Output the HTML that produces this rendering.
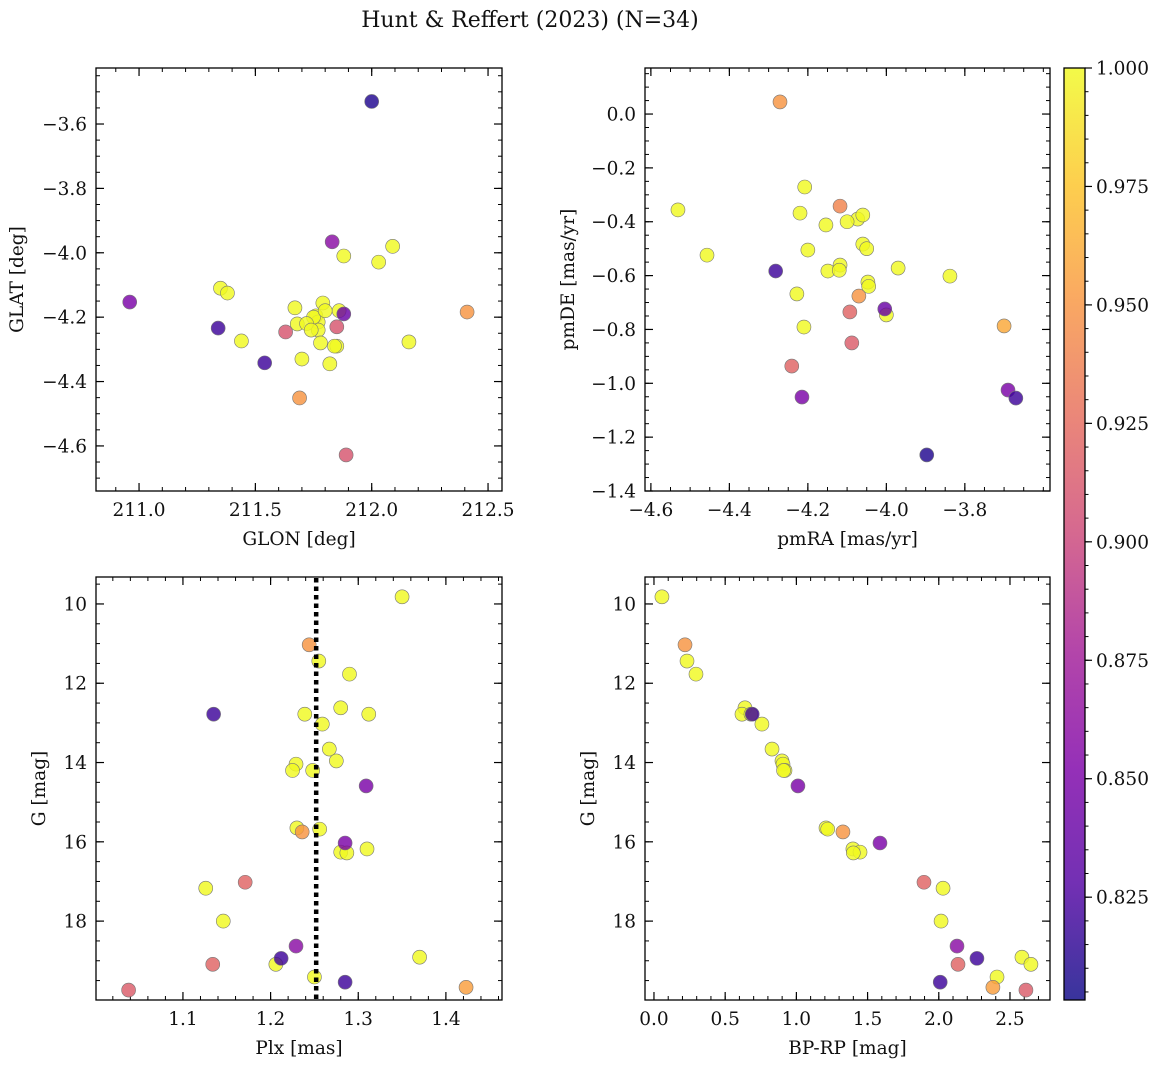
<!DOCTYPE html>
<html><head><meta charset="utf-8"><style>
body{margin:0;background:#fff}
svg text{font-family:"DejaVu Serif","Liberation Serif",serif;fill:#111}
</style></head><body>
<svg id="fig" width="1161" height="1067" xmlns="http://www.w3.org/2000/svg">
<text x="530" y="27" font-size="22" text-anchor="middle">Hunt &amp; Reffert (2023) (N=34)</text>
</svg>
<script>
// ---- data ----
const tlGlon=[212.0,210.96,211.34,211.35,211.38,211.44,211.54,211.63,211.67,211.68,211.70,211.69,211.76,211.77,211.77,211.79,211.83,211.88,211.82,211.85,211.86,211.85,211.88,211.89,212.03,212.09,212.16,212.41,211.75,211.78,211.72,211.84,211.80,211.74];
const tlGlat=[-3.53,-4.153,-4.234,-4.11,-4.125,-4.274,-4.342,-4.246,-4.171,-4.221,-4.33,-4.451,-4.196,-4.215,-4.24,-4.156,-3.966,-4.01,-4.345,-4.23,-4.18,-4.29,-4.19,-4.628,-4.029,-3.98,-4.277,-4.184,-4.2,-4.28,-4.22,-4.29,-4.18,-4.24];
const tlProb=[0.81,0.85,0.82,1,1,1,0.82,0.91,1,1,1,0.95,1,1,1,1,0.86,1,1,0.91,1,1,0.84,0.91,1,1,1,0.95,1,1,1,1,1,1];
const trPmra=[-4.271,-4.531,-4.457,-4.208,-4.22,-4.2,-4.154,-4.118,-4.073,-4.06,-4.06,-4.05,-4.118,-4.149,-4.12,-4.047,-4.045,-3.97,-3.838,-4.282,-4.228,-4.07,-4.004,-4.0,-4.21,-4.093,-4.088,-4.241,-4.215,-3.7,-3.69,-3.67,-3.897,-4.10];
const trPmde=[0.045,-0.356,-0.524,-0.271,-0.368,-0.505,-0.412,-0.342,-0.39,-0.375,-0.483,-0.5,-0.561,-0.583,-0.58,-0.624,-0.64,-0.572,-0.602,-0.583,-0.668,-0.676,-0.724,-0.746,-0.791,-0.735,-0.85,-0.936,-1.051,-0.787,-1.025,-1.055,-1.266,-0.40];
const trProb=[0.95,1,1,1,1,1,1,0.94,1,1,1,1,1,1,1,1,1,1,1,0.82,1,0.95,0.84,1,1,0.92,0.915,0.92,0.85,0.96,0.85,0.82,0.81,1];
const gMag=[9.82,11.03,11.44,11.77,12.62,12.78,12.78,12.78,13.03,13.66,13.96,14.04,14.2,14.2,14.59,15.65,15.68,15.75,16.03,16.18,16.26,16.28,17.17,17.02,18.0,18.63,18.91,18.94,19.09,19.09,19.41,19.54,19.74,19.67];
const plx=[1.35,1.244,1.255,1.29,1.28,1.312,1.239,1.135,1.259,1.267,1.275,1.229,1.225,1.248,1.309,1.23,1.256,1.236,1.285,1.31,1.28,1.287,1.126,1.171,1.146,1.229,1.37,1.212,1.206,1.134,1.25,1.285,1.038,1.423];
const bprp=[0.056,0.218,0.232,0.295,0.639,0.618,0.681,0.69,0.758,0.829,0.899,0.906,0.92,0.91,1.011,1.208,1.22,1.327,1.587,1.397,1.447,1.40,2.03,1.896,2.016,2.128,2.584,2.268,2.647,2.135,2.409,2.01,2.612,2.38];
const cmProb=[1,0.95,1,1,1,1,1,0.82,1,1,1,1,1,1,0.85,1,1,0.95,0.85,1,1,1,1,0.92,1,0.86,1,0.82,1,0.92,1,0.82,0.915,0.955];
const plxRef=1.252;
const cbTicks=[0.825,0.85,0.875,0.9,0.925,0.95,0.975,1.0];
const cbMin=0.8033,cbMax=1.0;

const NS="http://www.w3.org/2000/svg";
const svg=document.getElementById('fig');
const FS=18.5;
function mk(tag,attrs,parent){const e=document.createElementNS(NS,tag);for(const k in attrs)e.setAttribute(k,attrs[k]);(parent||svg).appendChild(e);return e;}
const stops=[[13,8,135],[84,2,163],[126,3,168],[163,29,151],[204,71,120],[230,108,92],[248,149,64],[253,196,39],[240,249,33]];
function plasma(v){let t=(v-cbMin)/(cbMax-cbMin);t=Math.max(0,Math.min(1,t));const p=t*(stops.length-1),i=Math.min(stops.length-2,Math.floor(p)),f=p-i;const c=stops[i].map((a,k)=>Math.round(a+(stops[i+1][k]-a)*f));return `rgb(${c[0]},${c[1]},${c[2]})`;}
function fmt(v,d){let s=v.toFixed(d);return s.replace('-','\u2212');}

function panel(name,x0,y0,x1,y1,xr,yr,xt,xm,yt,ym,xd,yd,xlab,ylab,xs,ys,ps,ylx){
  const g=mk('g',{});
  
  
  const sx=v=>x0+(v-xr[0])/(xr[1]-xr[0])*(x1-x0);
  const sy=v=>y0+(v-yr[0])/(yr[1]-yr[0])*(y1-y0);
  const inX=v=>v>=Math.min(...xr)-1e-9&&v<=Math.max(...xr)+1e-9;
  const inY=v=>v>=Math.min(...yr)-1e-9&&v<=Math.max(...yr)+1e-9;
  const ticks=(lo,hi,st)=>{const a=[];const s=Math.ceil(Math.min(lo,hi)/st-1e-6);for(let k=s;k*st<=Math.max(lo,hi)+1e-9;k++)a.push(+(k*st).toFixed(6));return a;};
  ticks(xr[0],xr[1],xm).forEach(v=>{const X=sx(v);mk('line',{x1:X,x2:X,y1:y1,y2:y1-4,stroke:'#000','stroke-width':1},g);mk('line',{x1:X,x2:X,y1:y0,y2:y0+4,stroke:'#000','stroke-width':1},g);});
  ticks(yr[0],yr[1],ym).forEach(v=>{const Y=sy(v);mk('line',{x1:x0,x2:x0+4,y1:Y,y2:Y,stroke:'#000','stroke-width':1},g);mk('line',{x1:x1,x2:x1-4,y1:Y,y2:Y,stroke:'#000','stroke-width':1},g);});
  xt.forEach(v=>{if(!inX(v))return;const X=sx(v);mk('line',{x1:X,x2:X,y1:y1,y2:y1-8,stroke:'#000','stroke-width':1.2},g);mk('line',{x1:X,x2:X,y1:y0,y2:y0+8,stroke:'#000','stroke-width':1.2},g);const t=mk('text',{x:X,y:y1+25,'font-size':FS,'text-anchor':'middle'},g);t.textContent=fmt(v,xd);});
  yt.forEach(v=>{if(!inY(v))return;const Y=sy(v);mk('line',{x1:x0,x2:x0+8,y1:Y,y2:Y,stroke:'#000','stroke-width':1.2},g);mk('line',{x1:x1,x2:x1-8,y1:Y,y2:Y,stroke:'#000','stroke-width':1.2},g);const t=mk('text',{x:x0-9,y:Y+6.5,'font-size':FS,'text-anchor':'end'},g);t.textContent=fmt(v,yd);});
  const xl=mk('text',{x:(x0+x1)/2,y:y1+54,'font-size':FS,'text-anchor':'middle'},g);xl.textContent=xlab;
  
  const yl=mk('text',{x:0,y:0,'font-size':FS,'text-anchor':'middle',transform:`translate(${ylx},${(y0+y1)/2}) rotate(-90)`},g);yl.textContent=ylab;
  
  const pg=mk('g',{},g);
  
  const idx=xs.map((_,i)=>i).sort((a,b)=>ps[b]-ps[a]);
  idx.forEach(i=>{const c=mk('circle',{cx:sx(xs[i]),cy:sy(ys[i]),r:7,fill:plasma(ps[i]),'fill-opacity':0.82,stroke:'#777','stroke-width':0.6},pg);
    
    });
  mk('rect',{x:x0,y:y0,width:x1-x0,height:y1-y0,fill:'none',stroke:'#000','stroke-width':1.3},g);
  return {g,sx,sy};
}
panel('panel-glon-glat',96,68,502,491,[210.815,212.56],[-3.426,-4.74],[211.0,211.5,212.0,212.5],0.1,[-3.6,-3.8,-4.0,-4.2,-4.4,-4.6],0.05,1,1,'GLON [deg]','GLAT [deg]',tlGlon,tlGlat,tlProb,23);
panel('panel-pm',645,68,1050,491,[-4.615,-3.583],[0.171,-1.4],[-4.6,-4.4,-4.2,-4.0,-3.8],0.05,[0.0,-0.2,-0.4,-0.6,-0.8,-1.0,-1.2,-1.4],0.05,1,1,'pmRA [mas/yr]','pmDE [mas/yr]',trPmra,trPmde,trProb,574);
const bl=panel('panel-plx-g',96,577,502,1000,[1.0008,1.464],[9.32,19.99],[1.1,1.2,1.3,1.4],0.02,[10,12,14,16,18],0.5,1,0,'Plx [mas]','G [mag]',plx,gMag,cmProb,45);
const rl=mk('line',{x1:bl.sx(plxRef),x2:bl.sx(plxRef),y1:578,y2:999,stroke:'#000','stroke-width':4.5,'stroke-dasharray':'4.5,4'},bl.g);


panel('panel-cmd',645,577,1050,1000,[-0.063,2.781],[9.32,19.99],[0.0,0.5,1.0,1.5,2.0,2.5],0.1,[10,12,14,16,18],0.5,1,0,'BP-RP [mag]','G [mag]',bprp,gMag,cmProb,594);

// colorbar
const cb=mk('g',{});


const defs=mk('defs',{},cb);
const lg=mk('linearGradient',{id:'pl',x1:0,y1:1,x2:0,y2:0},defs);
stops.forEach((s,i)=>mk('stop',{offset:i/(stops.length-1),'stop-color':`rgb(${s[0]},${s[1]},${s[2]})`,'stop-opacity':0.82},lg));
const cx0=1064,cx1=1085,cy0=68,cy1=1000;
mk('rect',{x:cx0,y:cy0,width:cx1-cx0,height:cy1-cy0,fill:'url(#pl)',stroke:'#000','stroke-width':1.3},cb);
const cby=v=>cy1-(v-cbMin)/(cbMax-cbMin)*(cy1-cy0);
for(let v=0.805;v<=1.0001;v+=0.005){const Y=cby(v);mk('line',{x1:cx1,x2:cx1+3.5,y1:Y,y2:Y,stroke:'#000','stroke-width':1},cb);}
cbTicks.forEach(v=>{const Y=cby(v);mk('line',{x1:cx1,x2:cx1+7,y1:Y,y2:Y,stroke:'#000','stroke-width':1.2},cb);const t=mk('text',{x:cx1+11,y:Y+6.5,'font-size':FS},cb);t.textContent=v.toFixed(3);

});
</script>
</body></html>
